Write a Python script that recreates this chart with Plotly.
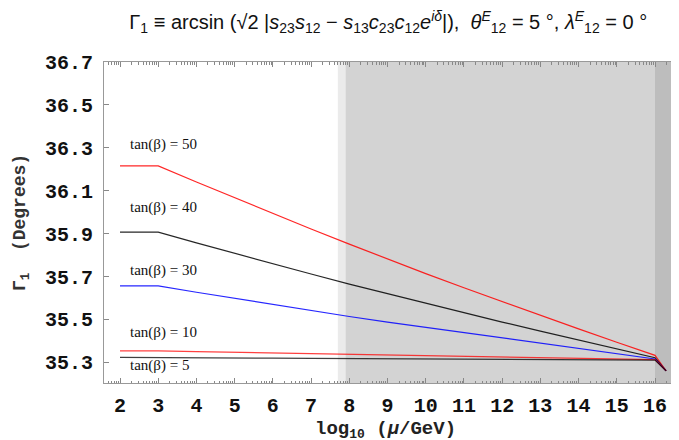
import plotly.graph_objects as go
import math

# ---------------- data ----------------
x_vals = [2, 3, 4, 5, 6, 7, 8, 9, 10, 11, 12, 13, 14, 15, 16, 16.29]

gamma_tb50 = [36.216, 36.216, 36.141, 36.067, 35.994, 35.922, 35.851, 35.782, 35.714,
              35.648, 35.583, 35.519, 35.456, 35.394, 35.333, 35.261]
gamma_tb40 = [35.907, 35.907, 35.857, 35.808, 35.760, 35.712, 35.665, 35.620, 35.575,
              35.531, 35.488, 35.446, 35.404, 35.363, 35.322, 35.261]
gamma_tb30 = [35.657, 35.657, 35.627, 35.598, 35.569, 35.541, 35.514, 35.488, 35.463,
              35.438, 35.413, 35.388, 35.364, 35.340, 35.316, 35.261]
gamma_tb10 = [35.354, 35.354, 35.350, 35.347, 35.343, 35.340, 35.336, 35.333, 35.330,
              35.327, 35.324, 35.321, 35.318, 35.316, 35.313, 35.261]
gamma_tb5 = [35.323, 35.323, 35.322, 35.321, 35.320, 35.319, 35.318, 35.317, 35.316,
             35.315, 35.314, 35.313, 35.312, 35.312, 35.311, 35.261]

series_names = ["tan(β) = 50", "tan(β) = 40", "tan(β) = 30", "tan(β) = 10", "tan(β) = 5"]
series_values = [gamma_tb50, gamma_tb40, gamma_tb30, gamma_tb10, gamma_tb5]
series_colors = ["rgba(255,0,0,0.85)", "rgba(0,0,0,0.85)", "rgba(0,0,255,0.85)",
                 "rgba(255,0,0,0.75)", "rgba(0,0,0,0.75)"]
label_y = [36.317, 36.023, 35.728, 35.440, 35.285]
label_x = 2.2

x_ticks = list(range(2, 17))
y_ticks = [35.3, 35.5, 35.7, 35.9, 36.1, 36.3, 36.5, 36.7]
y_ticklabels = ["35.3", "35.5", "35.7", "35.9", "36.1", "36.3", "36.5", "36.7"]

x_title = "log<sub><span style='font-size:13px'>10</span></sub> (<i>μ</i>/GeV)"

# shaded regions (x0, x1, colour)
shade_regions = [(7.7, 7.9, "#ebebeb"), (7.9, 16.0, "#d3d3d3"), (16.0, 17.0, "#bdbdbd")]

x_range = [1.581, 16.628]
y_range = [35.204, 36.7]

minor_x = [n + math.log10(k) for n in range(1, 17) for k in range(2, 10)]
minor_x = [v for v in minor_x if x_range[0] < v < x_range[1]]

fig = go.Figure()

for name, vals, col in zip(series_names, series_values, series_colors):
    fig.add_trace(go.Scatter(x=x_vals, y=vals, mode="lines", name=name,
                             line=dict(color=col, width=1.2), showlegend=False))

for name, ly in zip(series_names, label_y):
    fig.add_annotation(x=label_x, y=ly, text=name, showarrow=False,
                       xanchor="left", yanchor="middle",
                       font=dict(family="Liberation Serif", size=15, color="#111"))

# x-axis title as an annotation so it sits exactly under the axis
fig.add_annotation(xref="paper", yref="paper", x=0.489, y=-0.145, text=x_title,
                   showarrow=False, xanchor="center", yanchor="middle",
                   font=dict(family="Liberation Mono", size=19, color="#222", weight="bold"))

for x0, x1, col in shade_regions:
    fig.add_shape(type="rect", xref="x", yref="paper", x0=x0, x1=x1, y0=0, y1=1,
                  fillcolor=col, line=dict(width=0), layer="below")

tickfont = dict(family="Liberation Mono", size=20, color="#111", weight="bold")

# the page body adds an 8px offset, margins compensate for it
fig.update_layout(
    width=679, height=440,
    margin=dict(l=96, r=8, t=54, b=65, autoexpand=False),
    paper_bgcolor="white", plot_bgcolor="white",
    title=dict(
        text="Γ<sub>1</sub> ≡ arcsin (√2 |<i>s</i><sub>23</sub><i>s</i><sub>12</sub> − "
             "<i>s</i><sub>13</sub><i>c</i><sub>23</sub><i>c</i><sub>12</sub><i>e</i><sup><i>iδ</i></sup>|),  "
             "<i>θ</i><sup><i>E</i></sup><sub>12</sub> = 5 °, <i>λ</i><sup><i>E</i></sup><sub>12</sub> = 0 °",
        x=0.56, xanchor="center", y=0.968, yanchor="middle",
        font=dict(family="Liberation Sans", size=20, color="#111")),
    xaxis=dict(range=x_range, tickmode="array", tickvals=x_ticks,
               ticktext=[str(v) for v in x_ticks], automargin=False,
               ticks="inside", ticklen=5, tickcolor="#888", tickwidth=1,
               showline=True, linecolor="#999", linewidth=1, mirror="ticks",
               showgrid=False, zeroline=False, ticklabelstandoff=4,
               tickfont=tickfont,
               minor=dict(tickmode="array", tickvals=minor_x, ticks="inside",
                          ticklen=2.5, tickcolor="#888", showgrid=False)),
    yaxis=dict(range=y_range, tickmode="array", tickvals=y_ticks, ticktext=y_ticklabels,
               automargin=False,
               ticks="inside", ticklen=5, tickcolor="#888", tickwidth=1,
               showline=True, linecolor="#999", linewidth=1, mirror="ticks",
               showgrid=False, zeroline=False, ticklabelstandoff=6,
               tickfont=tickfont,
               title=dict(text="Γ<sub>1</sub>  (Degrees)", standoff=14,
                          font=dict(family="Liberation Mono", size=18, color="#333",
                                    weight="bold"))),
)

fig.write_html("out.html")
